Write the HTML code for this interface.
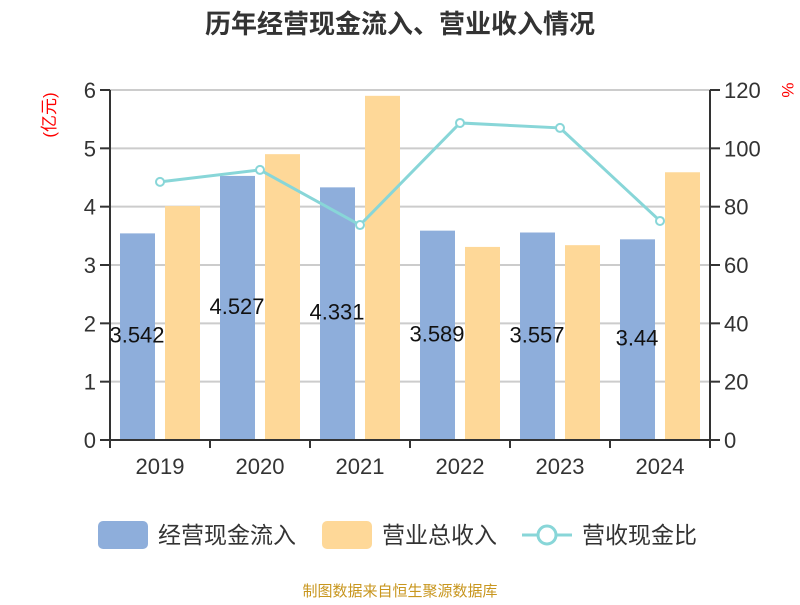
<!DOCTYPE html>
<html><head><meta charset="utf-8"><style>
body{margin:0;background:#fff;font-family:"Liberation Sans","Noto Sans CJK SC",sans-serif}
</style></head><body>
<svg width="800" height="600" xmlns="http://www.w3.org/2000/svg" font-family="Liberation Sans, Noto Sans CJK SC, sans-serif">
<text x="400" y="33" text-anchor="middle" font-size="26" font-weight="bold" fill="#333">历年经营现金流入、营业收入情况</text>
<text transform="translate(55,115) rotate(-90)" text-anchor="middle" font-size="17" fill="#f00">(亿元)</text>
<text transform="translate(782,90) rotate(90)" text-anchor="middle" font-size="17" fill="#f00">%</text>
<g id="grid"></g><g id="bars"></g><g id="line"></g><g id="axes"></g>
<g>
<rect x="98" y="521" width="50" height="28" rx="5" fill="#8eaedb"/>
<text x="158" y="543" font-size="23" fill="#333">经营现金流入</text>
<rect x="322" y="521" width="50" height="28" rx="5" fill="#fed898"/>
<text x="382" y="543" font-size="23" fill="#333">营业总收入</text>
<line x1="522" y1="535" x2="572" y2="535" stroke="#88d6d8" stroke-width="3"/>
<circle cx="547" cy="535" r="9" fill="#fff" stroke="#88d6d8" stroke-width="3"/>
<text x="582" y="543" font-size="23" fill="#333">营收现金比</text>
</g>
<text x="400" y="596" text-anchor="middle" font-size="15" fill="#c8961e">制图数据来自恒生聚源数据库</text>
</svg>
<script>
const categories=["2019","2020","2021","2022","2023","2024"];
const cashInflow=[3.542,4.527,4.331,3.589,3.557,3.44];
const revenue=[4.01,4.90,5.90,3.31,3.34,4.59];
const ratio=[88.5,92.6,73.7,108.7,107.0,75.1];
const leftTicks=[0,1,2,3,4,5,6];
const rightTicks=[0,20,40,60,80,100,120];
const NS="http://www.w3.org/2000/svg";
const X0=110,X1=710,Y0=440,Y1=90;
const bw=(X1-X0)/categories.length;
const yL=v=>Y0-(v/6)*(Y0-Y1);
const yR=v=>Y0-(v/120)*(Y0-Y1);
const xc=i=>X0+bw*(i+0.5);
function mk(tag,attrs,parent,text){const e=document.createElementNS(NS,tag);for(const k in attrs)e.setAttribute(k,attrs[k]);if(text!==undefined)e.textContent=text;document.getElementById(parent).appendChild(e);return e;}
leftTicks.forEach((t,i)=>{
 if(t>0){const g=mk('line',{x1:X0,x2:X1,y1:yL(t),y2:yL(t),stroke:'#ccc','stroke-width':2},'grid');
 
 }
 const l=mk('text',{x:96,y:yL(t)+8,'text-anchor':'end','font-size':22,fill:'#333'},'axes',t);
 
 
 mk('line',{x1:100,x2:X0,y1:yL(t),y2:yL(t),stroke:'#333','stroke-width':2},'axes');
 const r=mk('text',{x:724,y:yR(rightTicks[i])+8,'font-size':22,fill:'#333'},'axes',rightTicks[i]);
 
 
 mk('line',{x1:X1,x2:X1+10,y1:yR(rightTicks[i]),y2:yR(rightTicks[i]),stroke:'#333','stroke-width':2},'axes');
});
const la=mk('line',{x1:X0,x2:X0,y1:Y1,y2:Y0,stroke:'#333','stroke-width':2},'axes');


const ra=mk('line',{x1:X1,x2:X1,y1:Y1,y2:Y0,stroke:'#333','stroke-width':2},'axes');


const xa=mk('line',{x1:X0,x2:X1,y1:Y0,y2:Y0,stroke:'#333','stroke-width':2},'axes');


for(let i=0;i<=categories.length;i++)mk('line',{x1:X0+bw*i,x2:X0+bw*i,y1:Y0,y2:Y0+8,stroke:'#333','stroke-width':2},'axes');
categories.forEach((c,i)=>{
 const t=mk('text',{x:xc(i),y:474,'text-anchor':'middle','font-size':22,fill:'#333'},'axes',c);
 
 
 const b=mk('rect',{x:xc(i)-40,y:yL(cashInflow[i]),width:35,height:Y0-yL(cashInflow[i]),fill:'#8eaedb'},'bars');
 
 
 const o=mk('rect',{x:xc(i)+5,y:yL(revenue[i]),width:35,height:Y0-yL(revenue[i]),fill:'#fed898'},'bars');
 
 
 const v=mk('text',{x:xc(i)-23,y:(yL(cashInflow[i])+Y0)/2+6,'text-anchor':'middle','font-size':22,fill:'#111'},'bars',cashInflow[i]);
 
 
});
const p=mk('polyline',{points:ratio.map((v,i)=>xc(i)+','+yR(v)).join(' '),fill:'none',stroke:'#88d6d8','stroke-width':3},'line');


ratio.forEach((v,i)=>{
 const c=mk('circle',{cx:xc(i),cy:yR(v),r:4,fill:'#fff',stroke:'#88d6d8','stroke-width':2},'line');
 
 
});
</script>
</body></html>
